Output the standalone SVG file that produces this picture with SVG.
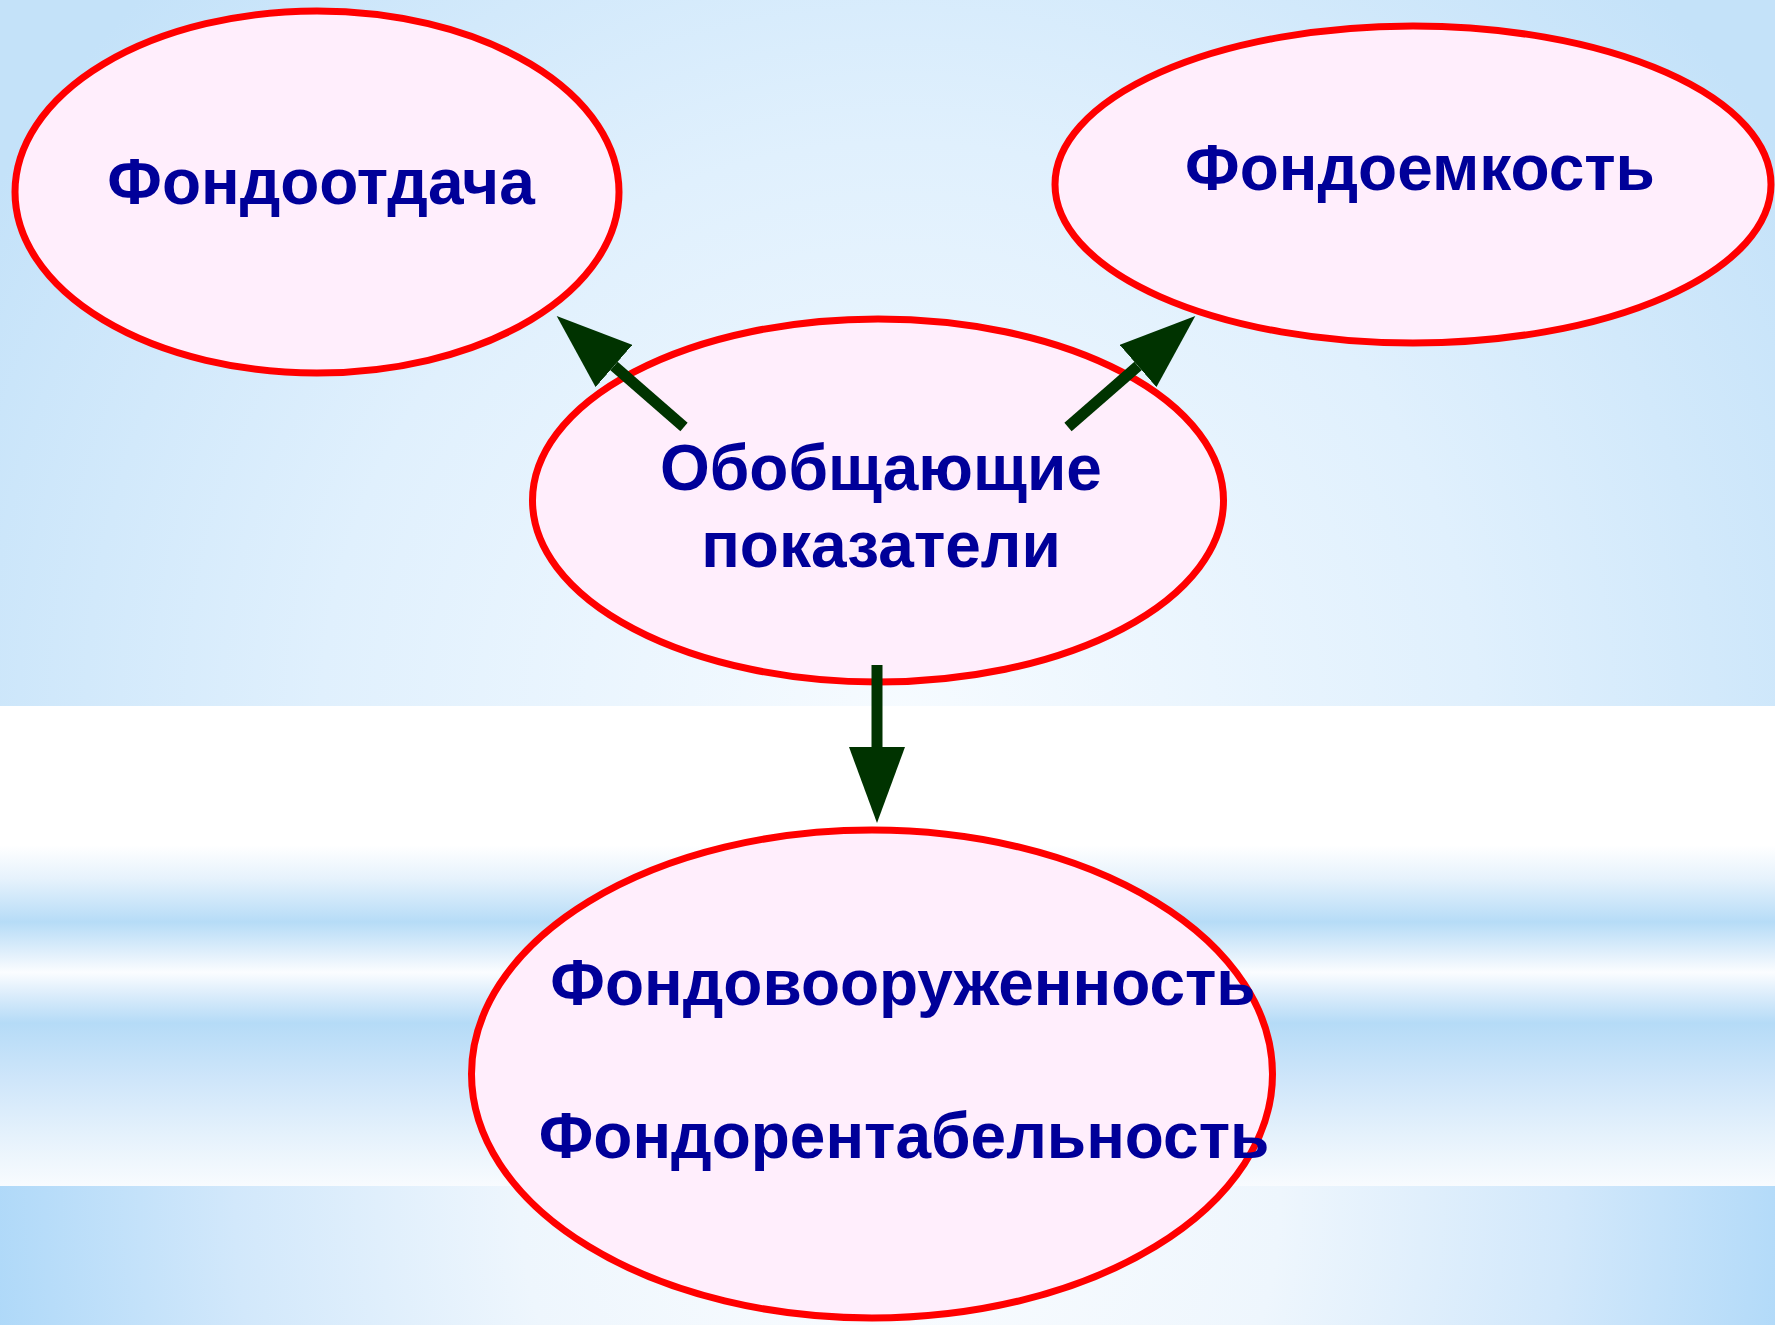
<svg xmlns="http://www.w3.org/2000/svg" width="1775" height="1325" viewBox="0 0 1775 1325">
<defs>
<radialGradient id="bgTop" gradientUnits="userSpaceOnUse" cx="900" cy="720" r="1050">
<stop offset="0" stop-color="#f6fbff"/>
<stop offset="0.55" stop-color="#e0f0fd"/>
<stop offset="1" stop-color="#c4e2f9"/>
</radialGradient>
<linearGradient id="bgMid" gradientUnits="userSpaceOnUse" x1="0" y1="706" x2="0" y2="1186">
<stop offset="0" stop-color="#ffffff"/>
<stop offset="0.29" stop-color="#ffffff"/>
<stop offset="0.36" stop-color="#e6f2fc"/>
<stop offset="0.45" stop-color="#b6dcf7"/>
<stop offset="0.52" stop-color="#e4f1fc"/>
<stop offset="0.555" stop-color="#fbfdff"/>
<stop offset="0.6" stop-color="#dcedfb"/>
<stop offset="0.66" stop-color="#b5dbf7"/>
<stop offset="0.78" stop-color="#cfe6fa"/>
<stop offset="0.9" stop-color="#e6f2fc"/>
<stop offset="1" stop-color="#f8fbfe"/>
</linearGradient>
<radialGradient id="bgBot" gradientUnits="userSpaceOnUse" cx="900" cy="1200" r="950">
<stop offset="0" stop-color="#fbfdff"/>
<stop offset="0.4" stop-color="#eef6fd"/>
<stop offset="0.7" stop-color="#d2e8fb"/>
<stop offset="1" stop-color="#a9d6f8"/>
</radialGradient>
<marker id="head" viewBox="0 0 76 56" refX="0" refY="28" markerWidth="76" markerHeight="56" markerUnits="userSpaceOnUse" orient="auto">
<path d="M0,0 L76,28 L0,56 Z" fill="#003300"/>
</marker>
</defs>
<style>
.node ellipse { fill: #ffeefc; stroke: #ff0000; stroke-width: 7; }
.node text { font-family: "Liberation Sans", Arial, sans-serif; font-weight: bold; font-size: 64px; fill: #000099; text-anchor: middle; }
.conn line { stroke: #003300; stroke-width: 11; }
</style>
<g id="background">
<rect x="0" y="0" width="1775" height="706" fill="url(#bgTop)"/>
<rect x="0" y="706" width="1775" height="480" fill="url(#bgMid)"/>
<rect x="0" y="1186" width="1775" height="139" fill="url(#bgBot)"/>
</g>
<g id="node-fondootdacha" class="node">
<ellipse cx="317" cy="192" rx="302" ry="181"/>
<text x="321" y="204">Фондоотдача</text>
</g>
<g id="node-fondoemkost" class="node">
<ellipse cx="1413" cy="184.5" rx="358" ry="158.5"/>
<text x="1420" y="190">Фондоемкость</text>
</g>
<g id="node-obobshchayushchie" class="node">
<ellipse cx="878" cy="500.5" rx="345.5" ry="181.5"/>
<text x="881" y="490">Обобщающие</text>
<text x="881" y="567">показатели</text>
</g>
<g id="node-bottom" class="node">
<ellipse cx="872" cy="1074" rx="400.5" ry="244"/>
<text x="903" y="1005">Фондовооруженность</text>
<text x="904" y="1158">Фондорентабельность</text>
</g>
<g id="connectors" class="conn">
<line x1="684" y1="427" x2="614" y2="366" marker-end="url(#head)"/>
<line x1="1068" y1="427" x2="1138" y2="366" marker-end="url(#head)"/>
<line x1="877" y1="665" x2="877" y2="747" marker-end="url(#head)"/>
</g>
</svg>
